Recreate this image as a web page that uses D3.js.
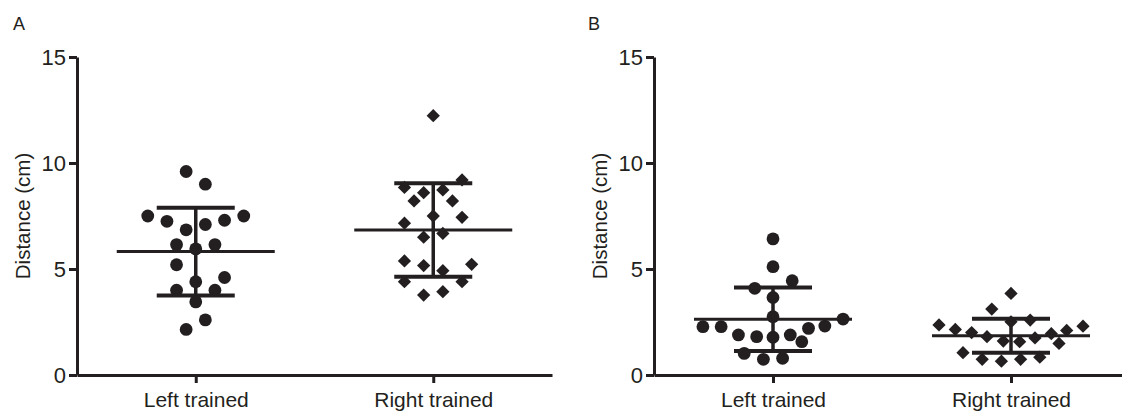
<!DOCTYPE html>
<html lang="en">
<head>
    <meta charset="UTF-8">
    <title>Distance by trained side</title>
    <script src="https://d3js.org/d3.v7.min.js"></script>
    <style>
        body {
            margin: 0;
            background: #ffffff;
            font-family: Arial, "Liberation Sans", sans-serif;
        }
        svg { display: block; }
        .axis path, .axis line {
            stroke: #231f20;
            stroke-width: 3px;
        }
        .axis text {
            fill: #231f20;
            font-family: Arial, "Liberation Sans", sans-serif;
        }
        .y-axis text { font-size: 22px; }
        .x-axis text { font-size: 21px; }
        .axis-label {
            fill: #231f20;
            font-size: 20.5px;
        }
        .panel-letter {
            fill: #231f20;
            font-size: 18px;
        }
        .stat { stroke: #231f20; fill: none; }
        .dot { fill: #231f20; }
    </style>
</head>
<body>
    <svg id="chart" width="1122" height="411"></svg>

    <script>
        // categories and y ticks
        const groups = ["Left trained", "Right trained"];
        const yTicks = [0, 5, 10, 15];

        // values (cm) and horizontal slot of each dot
        const aLeft = [9.6, 9.0, 7.5, 7.5, 7.25, 7.3, 6.85, 7.1, 6.15, 6.15, 5.95, 5.2, 4.4, 4.6, 4.0, 4.0, 3.45, 2.6, 2.15];
        const aLeftSlot = [-1, 1, -5, 5, -3, 3, -1, 1, -2, 2, 0, -2, 0, 3, -2, 2, 0, 1, -1];
        const aRight = [12.23, 8.85, 8.6, 8.73, 9.2, 8.21, 8.21, 7.5, 7.44, 7.16, 6.5, 6.68, 5.38, 5.16, 4.92, 5.22, 4.4, 4.4, 3.77, 3.93];
        const aRightSlot = [0, -3, -1, 1, 3, -2, 2, 0, 3, -3, -1, 1, -3, -1, 1, 4, -3, 3, -1, 1];

        const bLeft = [6.42, 5.11, 4.09, 4.45, 3.66, 2.75, 2.64, 2.28, 2.28, 2.31, 2.2, 1.89, 1.81, 1.78, 1.89, 1.57, 1.02, 0.74, 0.79];
        const bLeftSlot = [0, 0, -1.9, 2, 0, 0, 7.3, -7.3, -5.4, 5.4, 3.7, -3.6, -1.7, 0, 1.8, 3, -3, -1, 1];
        const bRight = [3.85, 3.11, 2.51, 2.59, 2.36, 2.15, 2.0, 1.81, 1.6, 1.57, 1.75, 1.95, 2.1, 2.3, 1.49, 1.05, 0.74, 0.65, 0.74, 0.84];
        const bRightSlot = [0, -2, 0, 2, -7.5, -5.8, -4.1, -2.5, -0.8, 0.9, 2.5, 4.2, 5.8, 7.5, 5, -5, -3, -1, 1, 3];

        // mean and SD as drawn
        const aMean = [5.82, 6.84];
        const aSD = [2.07, 2.2];
        const bMean = [2.63, 1.85];
        const bSD = [1.5, 0.8];

        const svg = d3.select("#chart");

        const y = d3.scaleLinear().domain([0, 15]).range([375, 57]);
        const slot = d3.scaleLinear().domain([0, 1]).range([0, 9.6]);

        const panels = [
            { letter: "A", x0: 77, x1: 552, data: [aLeft, aRight], slots: [aLeftSlot, aRightSlot], mean: aMean, sd: aSD, labelX: 23, letterX: 13 },
            { letter: "B", x0: 654, x1: 1130, data: [bLeft, bRight], slots: [bLeftSlot, bRightSlot], mean: bMean, sd: bSD, labelX: 600, letterX: 588 }
        ];

        const circle = d3.symbol().type(d3.symbolCircle).size(Math.PI * 6.4 * 6.4);
        const diamond = d3.symbol().type(d3.symbolSquare).size(88);

        panels.forEach(p => {
            const x = d3.scalePoint().domain(groups).range([p.x0, p.x1]).padding(0.5);
            const g = svg.append("g");

            // panel letter
            g.append("text")
                .attr("class", "panel-letter")
                .attr("x", p.letterX)
                .attr("y", 30)
                .text(p.letter);

            // axes
            g.append("g")
                .attr("class", "axis y-axis")
                .attr("transform", `translate(${p.x0},0)`)
                .call(d3.axisLeft(y).tickValues(yTicks).tickSize(8).tickSizeOuter(0).tickPadding(3));

            const xAxis = g.append("g")
                .attr("class", "axis x-axis")
                .attr("transform", `translate(0,${y(0)})`)
                .call(d3.axisBottom(x).tickSize(8).tickSizeOuter(0).tickPadding(5));
            xAxis.selectAll("text").attr("dy", null).attr("y", 32);

            g.append("text")
                .attr("class", "axis-label")
                .attr("transform", `translate(${p.labelX + 7},${y(7.5)}) rotate(-90)`)
                .attr("text-anchor", "middle")
                .text("Distance (cm)");

            // dots
            p.data.forEach((vals, gi) => {
                const cx = x(groups[gi]);
                const sym = gi === 0 ? circle : diamond;
                g.selectAll(null)
                    .data(vals.map((v, i) => ({ v, s: p.slots[gi][i] })))
                    .enter().append("path")
                    .attr("class", "dot")
                    .attr("d", sym)
                    .attr("transform", d => `translate(${cx + slot(d.s)},${y(d.v)})` + (gi === 1 ? " rotate(45)" : ""));

                // mean line and SD whiskers
                const m = p.mean[gi], s = p.sd[gi];
                g.append("line").attr("class", "stat")
                    .attr("x1", cx - 79).attr("x2", cx + 79)
                    .attr("y1", y(m)).attr("y2", y(m))
                    .attr("stroke-width", 3);
                g.append("line").attr("class", "stat")
                    .attr("x1", cx).attr("x2", cx)
                    .attr("y1", y(m + s)).attr("y2", y(m - s))
                    .attr("stroke-width", 3.5);
                [m + s, m - s].forEach(v => {
                    g.append("line").attr("class", "stat")
                        .attr("x1", cx - 39).attr("x2", cx + 39)
                        .attr("y1", y(v)).attr("y2", y(v))
                        .attr("stroke-width", 4);
                });
            });
        });
    </script>
</body>
</html>
